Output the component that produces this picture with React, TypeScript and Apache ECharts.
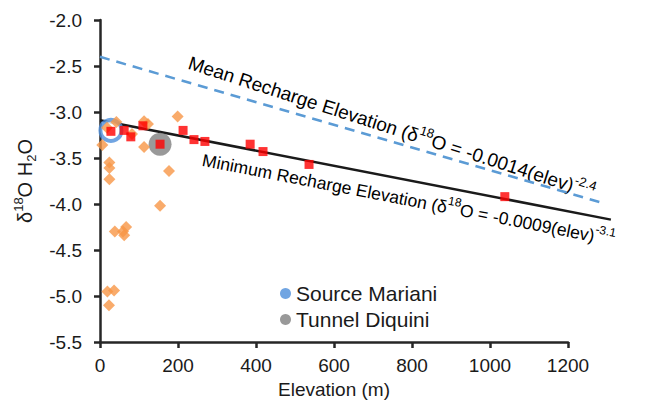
import React, { useEffect, useRef } from "react";
import * as echarts from "echarts";

// ---- data ----
const redElev = [28, 62, 79, 110, 154, 213, 241, 269, 385, 418, 536, 1038];
const redVal = [-3.21, -3.2, -3.27, -3.15, -3.35, -3.2, -3.3, -3.32, -3.35, -3.43, -3.57, -3.92];

const orangeElev = [6, 24, 24, 24, 42, 113, 123, 199, 113, 177, 154, 38, 67, 62, 59, 19, 36, 23, 82, 18];
const orangeVal = [-3.36, -3.55, -3.61, -3.73, -3.11, -3.1, -3.13, -3.05, -3.38, -3.64, -4.02, -4.3, -4.25, -4.34, -4.3, -4.95, -4.94, -5.1, -3.24, -3.17];

const marianiElev = [28];
const marianiVal = [-3.2];
const diquiniElev = [154];
const diquiniVal = [-3.35];

// drawn recharge-elevation lines (extend past the 1200 m axis end, as in the original)
const meanLineElev = [0, 1290];
const meanLineVal = [-2.4, -3.99];
const minLineElev = [0, 1310];
const minLineVal = [-3.09, -4.17];

const xTicks = [0, 200, 400, 600, 800, 1000, 1200];
const yTicks = [-5.5, -5.0, -4.5, -4.0, -3.5, -3.0, -2.5, -2.0];

const zip = (a: number[], b: number[]) => a.map((v, i) => [v, b[i]]);

const FONT = "'Liberation Sans', Arial, sans-serif";
const TXT = "#1a1a1a";

export default function App() {
  const ref = useRef<HTMLDivElement>(null);
  useEffect(() => {
    if (!ref.current) return;
    const chart = echarts.init(ref.current, null, { renderer: "svg" });
    const rich = (size: number) => ({
      n: { fontSize: size, fontFamily: FONT, color: TXT, lineHeight: 26, verticalAlign: "middle" },
      s: { fontSize: Math.round(size * 0.66), fontFamily: FONT, color: TXT, lineHeight: 26, verticalAlign: "top" },
    });
    const left = 100;
    const top = 20;
    const bottom = 70;
    const plotW = 646 - left - 78; // width of the 0..1200 plot
    const extMax = 1320;
    const extRight = 646 - left - (plotW * extMax) / xTicks[xTicks.length - 1];
    const hiddenAxis = { show: false };
    chart.setOption({
      animation: false,
      backgroundColor: "#ffffff",
      grid: [
        { left, right: 78, top, bottom, containLabel: false },
        { left, right: extRight, top, bottom, containLabel: false },
      ],
      xAxis: [
        {
          type: "value",
          gridIndex: 0,
          min: xTicks[0],
          max: xTicks[xTicks.length - 1],
          interval: 200,
          name: "Elevation (m)",
          nameLocation: "middle",
          nameGap: 31,
          nameTextStyle: { fontSize: 19, fontFamily: FONT, color: TXT },
          axisLine: { onZero: false, lineStyle: { color: "#262626", width: 2.5 } },
          axisTick: { show: true, inside: false, length: 6, lineStyle: { color: "#262626", width: 2.5 } },
          axisLabel: {
            fontSize: 19,
            fontFamily: FONT,
            color: TXT,
            margin: 14,
            formatter: (v: number) => String(v),
          },
          splitLine: { show: false },
        },
        { type: "value", gridIndex: 1, min: 0, max: extMax, ...hiddenAxis },
      ],
      yAxis: [
        {
          type: "value",
          gridIndex: 0,
          min: yTicks[0],
          max: yTicks[yTicks.length - 1],
          interval: 0.5,
          name: "δ{s|18}O H{b|2}O",
          nameLocation: "middle",
          nameRotate: 90,
          nameGap: 56,
          nameTextStyle: {
            fontSize: 20,
            fontFamily: FONT,
            color: TXT,
            lineHeight: 26,
            rich: {
              s: { fontSize: 13, fontFamily: FONT, color: TXT, lineHeight: 26, verticalAlign: "top" },
              b: { fontSize: 13, fontFamily: FONT, color: TXT, lineHeight: 26, verticalAlign: "bottom" },
            },
          },
          axisLine: { onZero: false, lineStyle: { color: "#262626", width: 2.5 } },
          axisTick: { show: true, inside: false, length: 6, lineStyle: { color: "#262626", width: 2.5 } },
          axisLabel: {
            fontSize: 19,
            fontFamily: FONT,
            color: TXT,
            margin: 18,
            formatter: (v: number) => v.toFixed(1),
          },
          splitLine: { show: false },
        },
        {
          type: "value",
          gridIndex: 1,
          min: yTicks[0],
          max: yTicks[yTicks.length - 1],
          ...hiddenAxis,
        },
      ],
      legend: {
        orient: "vertical",
        left: 275,
        top: 278,
        itemGap: 5,
        itemWidth: 11,
        itemHeight: 11,
        icon: "circle",
        textStyle: { fontSize: 21, fontFamily: FONT, color: TXT },
        data: [
          { name: "Source Mariani", itemStyle: { color: "#4D8FDB", borderWidth: 0 } },
          { name: "Tunnel Diquini", itemStyle: { color: "#7F7F7F", borderWidth: 0 } },
        ],
      },
      graphic: [
        {
          type: "text",
          x: 193,
          y: 50,
          rotation: -(17.8 * Math.PI) / 180,
          style: {
            text: "{n|Mean Recharge Elevation (δ}{s|18}{n|O = -0.0014(elev)}{s|-2.4}",
            align: "left",
            verticalAlign: "top",
            rich: rich(19),
          } as any,
        },
        {
          type: "text",
          x: 205,
          y: 147,
          rotation: -(11 * Math.PI) / 180,
          style: {
            text: "{n|Minimum Recharge Elevation (δ}{s|18}{n|O = -0.0009(elev)}{s|-3.1}",
            align: "left",
            verticalAlign: "top",
            rich: rich(17.5),
          } as any,
        },
      ],
      series: [
        {
          name: "Mean Recharge",
          type: "line",
          xAxisIndex: 1,
          yAxisIndex: 1,
          data: zip(meanLineElev, meanLineVal),
          symbol: "none",
          lineStyle: { color: "#5B9BD5", width: 2.5, type: [10, 7] },
          z: 1,
        },
        {
          name: "Minimum Recharge",
          type: "line",
          xAxisIndex: 1,
          yAxisIndex: 1,
          data: zip(minLineElev, minLineVal),
          symbol: "none",
          lineStyle: { color: "#1a1a1a", width: 2.5 },
          z: 1,
        },
        {
          name: "Source Mariani",
          type: "scatter",
          data: zip(marianiElev, marianiVal),
          symbol: "circle",
          symbolSize: 21,
          itemStyle: { color: "#ffffff", borderColor: "#4D8FDB", borderWidth: 4 },
          z: 2,
        },
        {
          name: "Tunnel Diquini",
          type: "scatter",
          data: zip(diquiniElev, diquiniVal),
          symbol: "circle",
          symbolSize: 23,
          itemStyle: { color: "#7F7F7F" },
          z: 2,
        },
        {
          name: "Springs",
          type: "scatter",
          data: zip(orangeElev, orangeVal),
          symbol: "diamond",
          symbolSize: 12,
          itemStyle: { color: "#F79646" },
          z: 3,
        },
        {
          name: "Wells",
          type: "scatter",
          data: zip(redElev, redVal),
          symbol: "rect",
          symbolSize: 9,
          itemStyle: { color: "#FF0000" },
          z: 4,
        },
      ],
    });
    return () => chart.dispose();
  }, []);
  return (
    <div
      ref={ref}
      style={{ position: "fixed", left: 0, top: 0, width: 646, height: 412 }}
    />
  );
}
